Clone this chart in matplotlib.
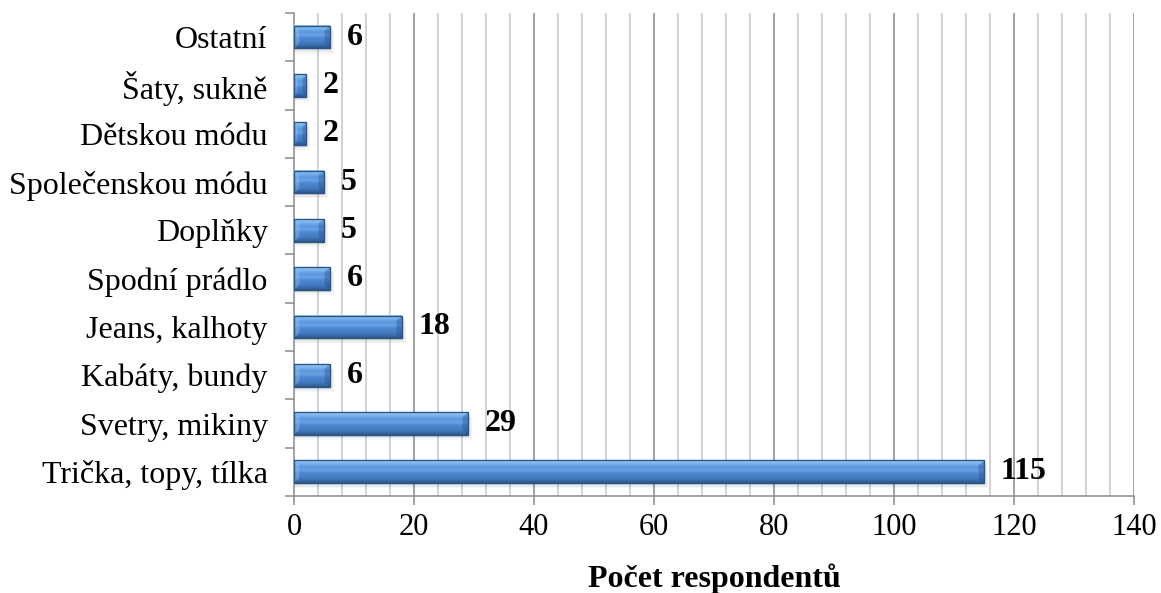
"""
Horizontal bar chart: what clothing respondents buy (count of respondents).
"""

import numpy as np
import matplotlib.pyplot as plt
from matplotlib.colors import LinearSegmentedColormap
from matplotlib.patches import Rectangle, Polygon

categories = ["Trička, topy, tílka", "Svetry, mikiny", "Kabáty, bundy",
              "Jeans, kalhoty", "Spodní prádlo", "Doplňky",
              "Společenskou módu", "Dětskou módu", "Šaty, sukně", "Ostatní"]
counts = [115, 29, 6, 18, 6, 5, 5, 2, 2, 6]

x_max = 140
x_major = np.arange(0, x_max + 1, 20)
x_minor = np.arange(0, x_max + 1, 4)

plt.rcParams['font.family'] = ['Liberation Serif', 'DejaVu Serif']

# vertical shading for the bevelled bars (top -> bottom)
bevel = LinearSegmentedColormap.from_list("bevel", [
    (0.00, "#9ccdf8"),
    (0.15, "#78b3ef"),
    (0.30, "#5a97de"),
    (0.45, "#6aa3e4"),
    (0.55, "#4f8ad3"),
    (0.78, "#447cc2"),
    (0.90, "#3a6aa8"),
    (1.00, "#2c5688"),
])
grad = np.linspace(0, 1, 64).reshape(-1, 1)

fig = plt.figure(figsize=(11.61, 5.93), dpi=100)
ax = fig.add_axes([0.2532, 0.1636, 0.7235, 0.8145])

bar_h = 0.47
y = np.arange(len(categories))

# grid: light every 4, darker every 20
for v in x_minor:
    if v % 20:
        ax.axvline(v, color="#c6c6c6", lw=1.1, zorder=0)
for v in x_major[1:]:
    ax.axvline(v, color="#8a8a8a", lw=1.1, zorder=0)

for yi, val in zip(y, counts):
    y0, y1 = yi - bar_h / 2, yi + bar_h / 2
    # soft drop shadow
    for k, a in enumerate([0.10, 0.07, 0.05]):
        off = 0.035 * (k + 1)
        ax.add_patch(Rectangle((0, y0 - off), val + 0.25 * (k + 1), bar_h,
                               facecolor="#555555", alpha=a, lw=0, zorder=2))
    ax.imshow(grad, cmap=bevel, aspect="auto", extent=(0, val, y0, y1),
              origin="upper", zorder=3, interpolation="bilinear")
    # bevelled ends
    d = min(0.9, val * 0.3)
    inset = bar_h * 0.22
    ax.add_patch(Polygon([(val, y0), (val, y1), (val - d, y1 - inset),
                          (val - d, y0 + inset)], closed=True,
                         facecolor="#1f4a80", alpha=0.35, lw=0, zorder=3.5))
    ax.add_patch(Polygon([(0, y0), (0, y1), (d, y1 - inset),
                          (d, y0 + inset)], closed=True,
                         facecolor="#9ccdf8", alpha=0.35, lw=0, zorder=3.5))
    ax.add_patch(Rectangle((0, y0), val, bar_h, facecolor="none",
                           edgecolor="#2b5585", lw=1.0, zorder=4))
    ax.text(val + 2.8, yi, str(val), va="center", ha="left",
            fontsize=23, fontweight="bold", zorder=5)

ax.set_xlim(0, x_max)
ax.set_ylim(-0.5, len(categories) - 0.5)

ax.set_xticks(x_major)
ax.set_xticklabels([str(v) for v in x_major])
ax.tick_params(axis="x", length=6.5, width=1.1, color="#8a8a8a",
               labelsize=22, pad=6)

# category labels at bar centres, tick marks on boundaries
ax.set_yticks(y)
ax.set_yticklabels(categories)
ax.set_yticks(np.arange(len(categories) + 1) - 0.5, minor=True)
ax.tick_params(axis="y", which="major", length=0, labelsize=23, pad=19)
ax.tick_params(axis="y", which="minor", length=6.5, width=1.1,
               color="#8a8a8a")

for side in ("top", "right"):
    ax.spines[side].set_visible(False)
for side in ("left", "bottom"):
    ax.spines[side].set_color("#8a8a8a")
    ax.spines[side].set_linewidth(1.1)

ax.set_xlabel("Počet respondentů", fontsize=23, fontweight="bold",
              labelpad=15)

fig.savefig("out.png", dpi=100)
plt.close(fig)
